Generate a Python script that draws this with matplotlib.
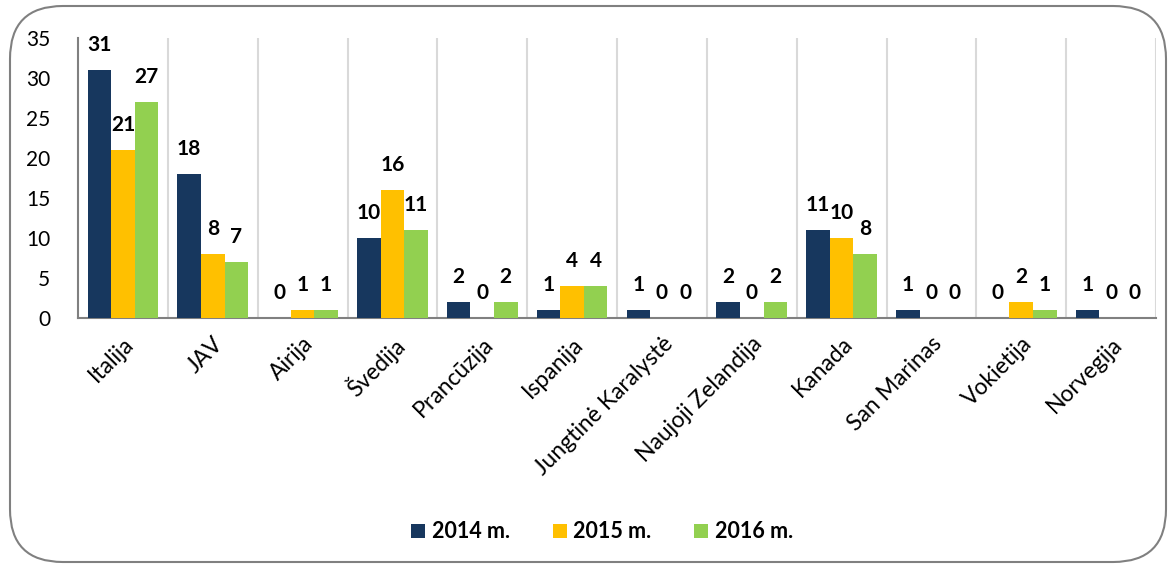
import matplotlib
matplotlib.use("Agg")
import matplotlib.pyplot as plt
from matplotlib.patches import FancyBboxPatch
import numpy as np

categories = ["Italija", "JAV", "Airija", "Švedija", "Prancūzija", "Ispanija",
              "Jungtinė Karalystė", "Naujoji Zelandija", "Kanada", "San Marinas",
              "Vokietija", "Norvegija"]
series_names = ["2014 m.", "2015 m.", "2016 m."]
v2014 = [31, 18, 0, 10, 2, 1, 1, 2, 11, 1, 0, 1]
v2015 = [21, 8, 1, 16, 0, 4, 0, 0, 10, 0, 2, 0]
v2016 = [27, 7, 1, 11, 2, 4, 0, 2, 8, 0, 1, 0]
yticks = [0, 5, 10, 15, 20, 25, 30, 35]

colors = ["#17375E", "#FFC000", "#92D050"]

plt.rcParams['font.family'] = ['Lato', 'DejaVu Sans']

W, H = 1173, 568
fig = plt.figure(figsize=(W / 100, H / 100), dpi=100)
ax = fig.add_axes([78 / W, 1 - 318 / H, (1156 - 78) / W, (318 - 38) / H])

x = np.arange(len(categories))
bw = 0.262
series = [v2014, v2015, v2016]
for i, (vals, c, name) in enumerate(zip(series, colors, series_names)):
    pos = x + (i - 1) * bw
    ax.bar(pos, vals, width=bw, color=c, label=name, zorder=3)
    for px, v in zip(pos, vals):
        ax.annotate(str(v), (px, v), xytext=(0, 18), textcoords="offset points",
                    ha="center", va="center", fontsize=15, fontweight="bold",
                    color="black", zorder=4)

ax.set_xlim(-0.5, len(categories) - 0.5)
ax.set_ylim(0, 35)
ax.set_yticks(yticks)
ax.set_yticklabels([str(t) for t in yticks], fontsize=15)
for b in np.arange(0.5, len(categories), 1.0):
    ax.axvline(b, color="#D9D9D9", lw=1.5, zorder=1)
ax.set_xticks(x)
ax.set_xticklabels(categories, rotation=45, ha="right", rotation_mode="anchor", fontsize=16.5)
ax.tick_params(axis="both", length=0)
ax.tick_params(axis="y", pad=20)
ax.tick_params(axis="x", pad=11)
for s in ["top", "right"]:
    ax.spines[s].set_visible(False)
for s in ["left", "bottom"]:
    ax.spines[s].set_color("#808080")
    ax.spines[s].set_linewidth(1.5)

leg = fig.legend(loc="center", bbox_to_anchor=(602 / W, 1 - 532 / H), ncol=3,
                 frameon=False, handlelength=0.65, handleheight=0.65,
                 columnspacing=2.0, handletextpad=0.3,
                 prop={"size": 15.5, "weight": "bold"})

border = FancyBboxPatch((10 / W, 6 / H), (1166 - 10) / W, (562 - 6) / H,
                        boxstyle="round,pad=0,rounding_size=0.045",
                        transform=fig.transFigure, fill=False,
                        edgecolor="#808080", lw=1.5, mutation_aspect=W / H)
fig.patches.append(border)

fig.savefig("out.png", dpi=100)
